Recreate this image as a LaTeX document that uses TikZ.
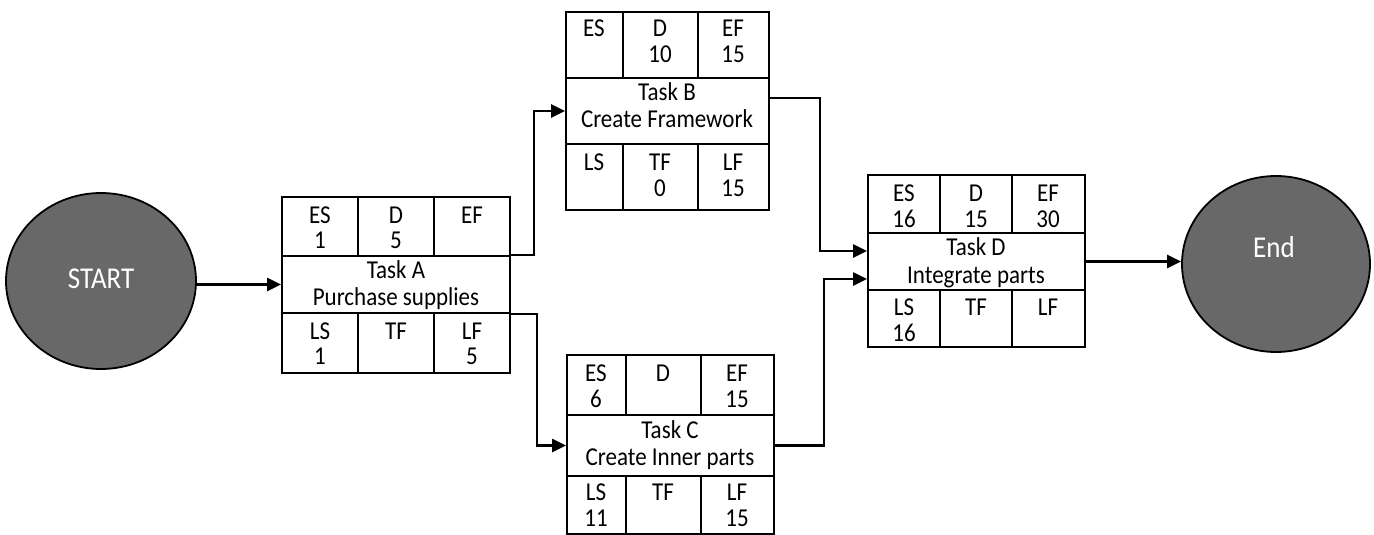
\documentclass[tikz,border=0pt]{standalone}
\usepackage{fontspec}
\setmainfont{Carlito}
\usetikzlibrary{arrows.meta,shapes.geometric}

\definecolor{termgray}{RGB}{104,104,104}
% slightly tall lettering
\newcommand{\tallx}[1]{\scalebox{1}[1.12]{#1}}

\tikzset{
  boxline/.style={line width=1.9pt},
  midrow/.style={draw, line width=1.9pt, rectangle, inner sep=0pt},
  txt/.style={anchor=base, inner sep=0pt, font=\fontsize{23}{25}\selectfont},
  conn/.style={line width=2.4pt, -{Triangle[length=14pt,width=13pt]}},
  terminal/.style={ellipse, draw, line width=1.8pt, fill=termgray, inner sep=0pt},
  termtxt/.style={anchor=base, inner sep=0pt, text=white, font=\fontsize{27}{30}\selectfont},
}

% task grid: #1 name of the middle row node, #2-#5 column edges, #6-#9 row edges
\newcommand{\taskgrid}[9]{%
  \draw[boxline] (#2,#6) rectangle (#5,#9);
  \draw[boxline] (#3,#6) -- (#3,#7) (#4,#6) -- (#4,#7)
                 (#3,#8) -- (#3,#9) (#4,#8) -- (#4,#9);
  \node[midrow, minimum width={#5-#2}, minimum height={#8-#7}] (#1)
       at ({(#2+#5)/2},{(#7+#8)/2}) {};
}
% one line of text placed on its baseline
\newcommand{\tline}[4]{\node[txt] (#1) at (#2,#3) {\tallx{#4}};}

\begin{document}
\begin{tikzpicture}[x=1pt,y=-1pt]
\useasboundingbox (0,0) rectangle (1374,535);

% start and end terminals
\node[terminal, minimum width=190pt, minimum height=176pt] (start) at (101,281) {};
\node[termtxt] (starttxt) at (101,288) {\tallx{START}};
\node[terminal, minimum width=188pt, minimum height=176pt] (end) at (1276,264) {};
\node[termtxt] (endtxt) at (1274,257) {\tallx{End}};

% Task A
\taskgrid{ta}{282}{358}{434}{510}{197}{256}{313}{373}
\tline{a-es}{320}{223}{ES}   \tline{a-esv}{320}{248}{1}
\tline{a-d}{396}{223}{D}     \tline{a-dv}{396}{248}{5}
\tline{a-ef}{472}{223}{EF}
\tline{a-t1}{396}{278}{Task A}
\tline{a-t2}{396}{305}{Purchase supplies}
\tline{a-ls}{320}{339}{LS}   \tline{a-lsv}{320}{364}{1}
\tline{a-tf}{396}{339}{TF}
\tline{a-lf}{472}{339}{LF}   \tline{a-lfv}{472}{364}{5}

% Task B
\taskgrid{tb}{566}{623}{698}{769}{12}{78}{144}{210}
\tline{b-es}{594}{37}{ES}
\tline{b-d}{660}{37}{D}      \tline{b-dv}{660}{63}{10}
\tline{b-ef}{733}{37}{EF}    \tline{b-efv}{733}{63}{15}
\tline{b-t1}{667}{100}{Task B}
\tline{b-t2}{667}{128}{Create Framework}
\tline{b-ls}{594}{170}{LS}
\tline{b-tf}{660}{170}{TF}   \tline{b-tfv}{660}{196}{0}
\tline{b-lf}{733}{170}{LF}   \tline{b-lfv}{733}{196}{15}

% Task C
\taskgrid{tc}{567}{626}{701}{774}{355}{415}{476}{534}
\tline{c-es}{596}{381}{ES}   \tline{c-esv}{596}{407}{6}
\tline{c-d}{663}{381}{D}
\tline{c-ef}{737}{381}{EF}   \tline{c-efv}{737}{407}{15}
\tline{c-t1}{670}{438}{Task C}
\tline{c-t2}{670}{465}{Create Inner parts}
\tline{c-ls}{596}{500}{LS}   \tline{c-lsv}{596}{526}{11}
\tline{c-tf}{663}{500}{TF}
\tline{c-lf}{737}{500}{LF}   \tline{c-lfv}{737}{526}{15}

% Task D
\taskgrid{td}{868}{940}{1012}{1085}{175}{233}{290}{347}
\tline{d-es}{904}{201}{ES}   \tline{d-esv}{904}{227}{16}
\tline{d-d}{976}{201}{D}     \tline{d-dv}{976}{227}{15}
\tline{d-ef}{1048}{201}{EF}  \tline{d-efv}{1048}{227}{30}
\tline{d-t1}{976}{255}{Task D}
\tline{d-t2}{976}{283}{Integrate parts}
\tline{d-ls}{904}{315}{LS}   \tline{d-lsv}{904}{341}{16}
\tline{d-tf}{976}{315}{TF}
\tline{d-lf}{1048}{315}{LF}

% connectors
\draw[conn] (start.east |- ta.west) -- (ta.west);
\draw[conn] (ta.north east) -- ++(23,0) |- (tb.west);
\draw[conn] (ta.south east) -- ++(26,0) |- (tc.west);
\draw[conn] ([yshift=13pt]tb.east) -- ++(50,0) |- ([yshift=10.5pt]td.west);
\draw[conn] (tc.east) -- ++(49,0) |- ([yshift=-17.5pt]td.west);
\draw[conn] (td.east) -- (end.west |- td.east);
\end{tikzpicture}
\end{document}
